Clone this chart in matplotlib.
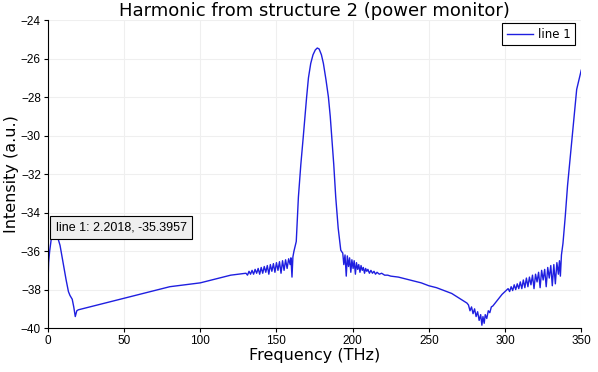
import matplotlib
matplotlib.use("Agg")
import matplotlib.pyplot as plt

# values
freq = [0, 0.5, 1.2, 2.2, 3.5, 5, 6.5, 8, 10, 12, 13.5, 14.5, 16, 17, 18, 19,
        20, 25, 30, 35, 40, 45, 50, 55, 60, 65, 70, 75, 80, 85, 90, 95, 100,
        105, 110, 115, 120, 125,
        130, 131, 132, 133, 134, 135, 136, 137, 138, 139, 140, 141, 142, 143,
        144, 145, 146, 147, 148, 149, 150, 151, 152, 153, 154, 155, 156, 157,
        158, 159, 159.5, 160.2, 160.8, 161.5,
        163, 164.4, 166, 167.6, 169.8, 171, 172.5, 174, 175.5, 176.8, 178,
        179.5, 180.8, 182.5, 184.1, 185.3, 186.3, 187.6, 188.9, 190.5, 192.2,
        193, 193.5, 194.2, 195, 195.8, 196.5, 197.3, 198, 198.8, 199.5, 200.3,
        201, 201.8, 202.5, 203.3, 204, 204.8, 205.5, 206.3, 207, 207.8, 208.5,
        209.3, 210, 211, 212, 213, 214, 215, 216, 217.5, 219, 221, 223, 225,
        230, 235, 240, 245, 250, 255, 260, 265, 270, 275,
        276, 277, 278, 279, 280, 281, 282, 283, 284, 284.8, 285.5, 286.3, 287,
        288, 289, 290, 291, 292, 294, 296, 298, 300,
        302, 303, 304, 305, 306, 307, 308, 309, 310, 311, 312, 313, 314, 315,
        316, 317, 318, 319, 320, 321, 322, 323, 324, 325, 326, 327, 328, 329,
        330, 331, 332, 333, 334, 335, 335.7, 336.3, 337,
        338, 339.5, 341, 343.2, 345, 347, 350]
intensity = [-38.0, -36.6, -36.0, -35.3957, -35.25, -35.2, -35.3, -35.7, -36.6,
             -37.5, -38.1, -38.3, -38.5, -38.9, -39.4, -39.1,
             -39.05, -38.95, -38.85, -38.75, -38.65, -38.55, -38.45, -38.35,
             -38.25, -38.15, -38.05, -37.95, -37.85, -37.8, -37.75, -37.7,
             -37.65, -37.55, -37.45, -37.35, -37.25, -37.2,
             -37.15, -37.25, -37.05, -37.2, -37.0, -37.2, -36.95, -37.15, -36.9,
             -37.2, -36.85, -37.15, -36.8, -37.1, -36.75, -37.2, -36.7, -37.05,
             -36.65, -37.1, -36.6, -37.0, -36.55, -37.15, -36.5, -37.0, -36.45,
             -36.9, -36.4, -36.7, -36.35, -37.35, -36.3, -36.0,
             -35.5, -33.2, -31.5, -30.06, -28.0, -27.0, -26.25, -25.8, -25.55,
             -25.45, -25.5, -25.8, -26.25, -27.1, -28.0, -29.0, -30.06, -31.5,
             -33.2, -34.8, -35.95,
             -36.05, -36.1, -36.7, -36.2, -37.3, -36.25, -36.8, -36.35, -37.1,
             -36.45, -36.9, -36.5, -37.2, -36.6, -36.95, -36.7, -37.1, -36.75,
             -37.0, -36.85, -37.15, -36.9, -37.05, -36.95, -37.15, -37.0,
             -37.15, -37.05, -37.2, -37.1, -37.2, -37.15, -37.25, -37.25, -37.3,
             -37.35, -37.45, -37.55, -37.65, -37.8, -37.9, -38.05, -38.2,
             -38.45, -38.7,
             -38.8, -39.1, -38.9, -39.25, -39.0, -39.4, -39.15, -39.6, -39.3,
             -39.85, -39.4, -39.75, -39.3, -39.5, -39.1, -39.2, -38.9, -38.85,
             -38.65, -38.45, -38.25, -38.1,
             -37.95, -38.1, -37.85, -38.05, -37.75, -38.0, -37.7, -37.95, -37.6,
             -37.95, -37.5, -37.9, -37.4, -37.85, -37.35, -37.75, -37.25, -37.95,
             -37.2, -37.6, -37.1, -37.9, -37.0, -37.5, -36.95, -37.85, -36.85,
             -37.4, -36.75, -37.8, -36.7, -37.7, -36.6, -37.2, -36.5, -37.3,
             -36.2,
             -35.6, -34.2, -32.6, -30.75, -29.2, -27.6, -26.6]

cursor_x = 2.2018
cursor_y = -35.3957

fig = plt.figure(figsize=(5.98, 3.72), dpi=100)
ax = fig.add_axes([0.080, 0.118, 0.892, 0.828])

ax.plot(freq, intensity, color='#1f1fe0', linewidth=1.0, label='line 1')

ax.set_xlim(0, 350)
ax.set_ylim(-40, -24)
ax.set_xticks(range(0, 351, 50))
ax.set_yticks(range(-40, -23, 2))
ax.grid(True, color='#efefef', linewidth=0.8)
ax.set_axisbelow(True)
for s in ['top', 'right']:
    ax.spines[s].set_visible(False)
ax.tick_params(direction='out', length=3, labelsize=8.5, pad=2)
for lab in ax.get_xticklabels() + ax.get_yticklabels():
    lab.set_family('Liberation Sans')

ax.set_xlabel('Frequency (THz)', fontsize=11.5, labelpad=1)
ax.set_ylabel('Intensity (a.u.)', fontsize=11.5, labelpad=1)
ax.set_title('Harmonic from structure 2 (power monitor)', fontsize=13, pad=2)

leg = ax.legend(loc='upper right', fontsize=8.5, fancybox=False, framealpha=1,
                edgecolor='black', handlelength=2.2, borderpad=0.4,
                handletextpad=0.4, bbox_to_anchor=(1.0, 1.01))
leg.get_frame().set_linewidth(0.8)

ax.text(cursor_x + 3.0, cursor_y + 0.62, f'line 1: {cursor_x}, {cursor_y}',
        fontsize=9, family='Liberation Sans', va='center', ha='left',
        bbox=dict(boxstyle='square,pad=0.45', facecolor='#eeeeee',
                  edgecolor='black', linewidth=0.8))

fig.savefig('out.png', dpi=100)
